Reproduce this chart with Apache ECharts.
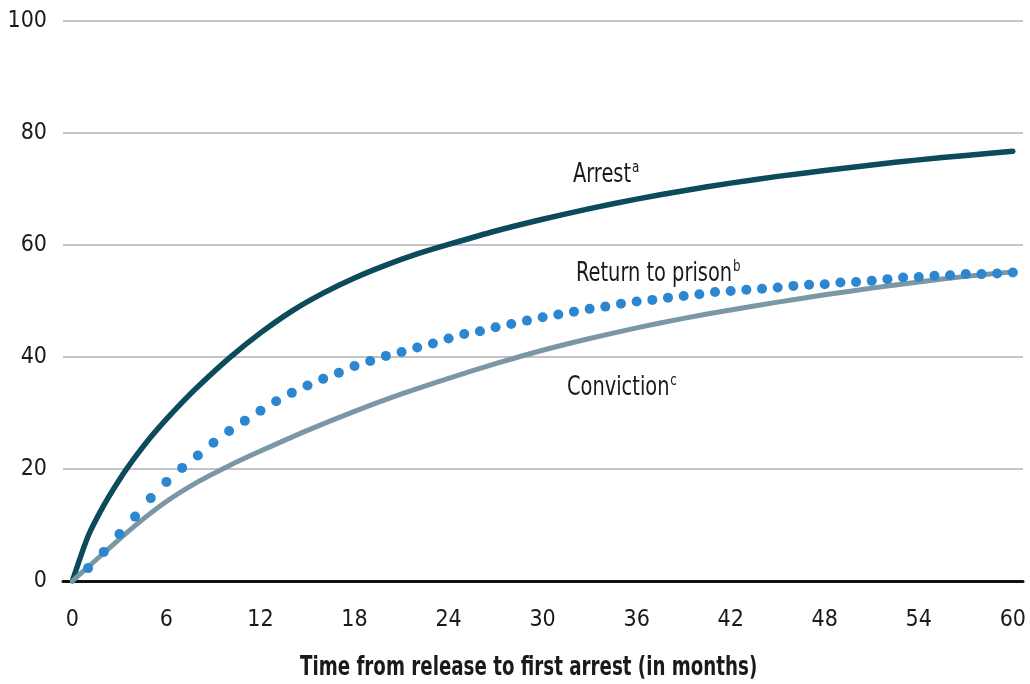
<!DOCTYPE html>
<html>
<head>
<meta charset="utf-8">
<script src="https://cdn.jsdelivr.net/npm/echarts@6/dist/echarts.min.js"></script>
<style>
  html, body { margin: 0; padding: 0; background: #fff; }
  #chart { width: 1030px; height: 684px; }
</style>
</head>
<body>
<div id="chart"></div>
<script>
// months after release
var xTicks = [0, 6, 12, 18, 24, 30, 36, 42, 48, 54, 60];

var arrestMonths = [0, 1, 2, 3, 4, 5, 6, 7, 8, 10, 12, 14, 16, 18, 20, 22, 24, 27, 30, 33, 36, 39, 42, 45, 48, 51, 54, 57, 60];
var arrestValues = [0, 8, 13.5, 18.1, 22.1, 25.7, 28.9, 31.9, 34.7, 39.8, 44.3, 48.2, 51.4, 54.1, 56.4, 58.4, 60.1, 62.5, 64.6, 66.5, 68.2, 69.7, 71.05, 72.25, 73.3, 74.3, 75.2, 76.0, 76.75];

var convictionMonths = [0, 1, 2, 4, 6, 8, 10, 12, 15, 18, 21, 24, 27, 30, 33, 36, 39, 42, 45, 48, 51, 54, 57, 60];
var convictionValues = [0, 2.5, 5, 9.9, 14.2, 17.7, 20.6, 23.2, 26.9, 30.3, 33.4, 36.2, 38.8, 41.2, 43.3, 45.2, 46.9, 48.4, 49.8, 51.1, 52.3, 53.4, 54.4, 55.2];

// one dot per month, from month 1
var prisonValues = [2.3, 5.2, 8.4, 11.5, 14.8, 17.7, 20.2, 22.4, 24.7, 26.8,
  28.6, 30.4, 32.1, 33.6, 34.9, 36.1, 37.2, 38.4, 39.3, 40.2,
  40.9, 41.7, 42.4, 43.3, 44.1, 44.6, 45.3, 45.9, 46.5, 47.1,
  47.6, 48.1, 48.6, 49.0, 49.5, 49.9, 50.2, 50.6, 50.9, 51.2,
  51.6, 51.8, 52.0, 52.2, 52.4, 52.7, 52.9, 53.0, 53.3, 53.4,
  53.6, 53.9, 54.2, 54.3, 54.5, 54.6, 54.8, 54.8, 54.9, 55.1];

function pairs(xs, ys) {
  var out = [];
  for (var i = 0; i < xs.length; i++) out.push([xs[i], ys[i]]);
  return out;
}
var prisonData = [];
for (var i = 0; i < prisonValues.length; i++) prisonData.push([i + 1, prisonValues[i]]);

var font = '"Liberation Sans Narrow", "DejaVu Sans Condensed", sans-serif';
var supStyle = { fontSize: 16, fontFamily: font, fill: '#1a1a1a', verticalAlign: 'top', padding: [0, 0, 14, 1] };

// curve label with a superscript note letter
function note(text, sup, x, y) {
  return {
    type: 'text', x: x, y: y, scaleX: 0.83,
    style: {
      text: '{n|' + text + '}{s|' + sup + '}',
      rich: {
        n: { fontSize: 26, fontFamily: font, fill: '#1a1a1a' },
        s: supStyle
      }
    }
  };
}

var myChart = echarts.init(document.getElementById('chart'));
var option = {
  animation: false,
  backgroundColor: '#fff',
  grid: { left: 63, right: 7, top: 21, bottom: 103 },
  xAxis: {
    type: 'value',
    min: -0.6,
    max: 60.65,
    splitLine: { show: false },
    axisTick: { show: false },
    axisLine: { show: true, lineStyle: { color: '#111', width: 3 } },
    axisLabel: {
      customValues: xTicks,
      margin: 28,
      color: '#1a1a1a',
      fontSize: 23,
      fontFamily: font
    }
  },
  yAxis: {
    type: 'value',
    min: 0,
    max: 100,
    interval: 20,
    axisLine: { show: false },
    axisTick: { show: false },
    splitLine: { lineStyle: { color: '#c4c4c4', width: 2 } },
    axisLabel: {
      margin: 16,
      color: '#1a1a1a',
      fontSize: 23,
      fontFamily: font
    }
  },
  series: [
    {
      name: 'Arrest',
      type: 'line',
      data: pairs(arrestMonths, arrestValues),
      smooth: 0.25,
      showSymbol: false,
      lineStyle: { color: '#0b4b5b', width: 5.5, cap: 'round', join: 'round' }
    },
    {
      name: 'Return to prison',
      type: 'line',
      data: prisonData,
      showSymbol: true,
      symbol: 'circle',
      symbolSize: 10,
      itemStyle: { color: '#2c87d0', borderWidth: 0 },
      lineStyle: { width: 0, opacity: 0 }
    },
    {
      name: 'Conviction',
      type: 'line',
      data: pairs(convictionMonths, convictionValues),
      smooth: 0.25,
      showSymbol: false,
      lineStyle: { color: '#7a97a5', width: 5, cap: 'round', join: 'round' }
    }
  ],
  graphic: [
    note('Arrest', 'a', 573, 160),
    note('Return to prison', 'b', 576, 259),
    note('Conviction', 'c', 567, 373),
    {
      type: 'text', x: 300, y: 655, scaleX: 0.78,
      style: {
        text: 'Time from release to first arrest (in months)',
        fontSize: 26,
        fontWeight: 'bold',
        fontFamily: font,
        fill: '#1a1a1a'
      }
    }
  ]
};
myChart.setOption(option);
</script>
</body>
</html>
